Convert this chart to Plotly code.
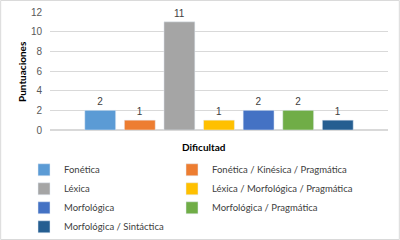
import plotly.graph_objects as go

categories = ["Fonética", "Fonética / Kinésica / Pragmática", "Léxica",
              "Léxica / Morfológica / Pragmática", "Morfológica",
              "Morfológica / Pragmática", "Morfológica / Sintáctica"]
values = [2, 1, 11, 1, 2, 2, 1]
colors = ["#5B9BD5", "#ED7D31", "#A5A5A5", "#FFC000", "#4472C4", "#70AD47", "#255E91"]
legend_column = ["legend", "legend2", "legend", "legend2", "legend", "legend2", "legend"]
y_ticks = [0, 2, 4, 6, 8, 10, 12]
x_title = "Dificultad"
y_title = "Puntuaciones"

W, H = 400, 240
L, R, T, B = 50, 12, 12, 110
NARROW = "Lato, sans-serif"
SANS = "Liberation Sans, Arial, sans-serif"

fig = go.Figure()
for name, v, c, lg in zip(categories, values, colors, legend_column):
    fig.add_trace(go.Bar(
        x=[x_title], y=[v], name=name, marker_color=c, legend=lg,
        text=[str(v)], textposition="outside", cliponaxis=False,
        textfont=dict(family=SANS, size=10, color="#404040"),
    ))

leg_common = dict(orientation="v", xanchor="left", xref="container",
                  yanchor="top", yref="container", y=0.353,
                  font=dict(family=NARROW, size=9.5, color="#404040"),
                  traceorder="normal", itemwidth=30, tracegroupgap=0,
                  bgcolor="rgba(0,0,0,0)")

pw, ph = W - L - R, H - T - B
fig.update_layout(
    width=W, height=H,
    margin=dict(l=L, r=R, t=T, b=B, autoexpand=False),
    paper_bgcolor="white", plot_bgcolor="white",
    font=dict(family=SANS, size=10, color="#595959"),
    barmode="group", bargap=0.18, bargroupgap=0.22,
    showlegend=True,
    legend=dict(x=0.06, **leg_common),
    legend2=dict(x=0.43, **leg_common),
    xaxis=dict(showticklabels=False, showline=False, showgrid=False),
    yaxis=dict(range=[0, 12], tickvals=y_ticks, showgrid=True, gridcolor="#d9d9d9",
               zeroline=True, zerolinecolor="#d9d9d9", showline=False,
               tickfont=dict(family=SANS, size=10, color="#595959"), ticklabelstandoff=7),
    annotations=[
        dict(text="<b>" + y_title + "</b>", textangle=-90, showarrow=False,
             xref="paper", yref="paper", x=-28 / pw, y=0.5,
             xanchor="center", yanchor="middle",
             font=dict(family=NARROW, size=10, color="#000000")),
        dict(text="<b>" + x_title + "</b>", showarrow=False,
             xref="paper", yref="paper", x=0.456, y=-17 / ph,
             xanchor="center", yanchor="middle",
             font=dict(family=NARROW, size=10, color="#000000")),
    ],
    shapes=[dict(type="rect", xref="paper", yref="paper",
                 x0=-L / pw + 0.002, x1=1 + R / pw - 0.002,
                 y0=-B / ph + 0.004, y1=1 + T / ph - 0.004,
                 line=dict(color="#d9d9d9", width=1), fillcolor="rgba(0,0,0,0)")],
)
fig.write_html("out.html", config={"displayModeBar": False},
               post_script="document.body.style.margin='0';")
